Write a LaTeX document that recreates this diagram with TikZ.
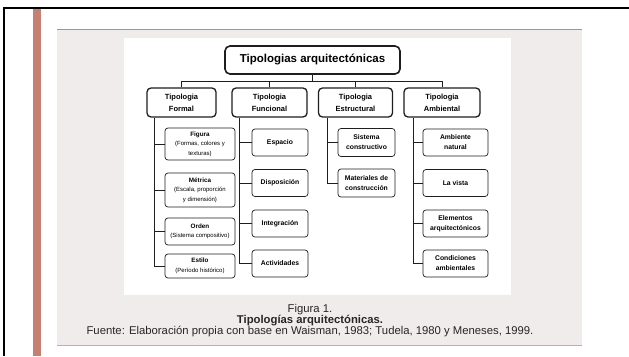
\documentclass[tikz,border=0pt]{standalone}
\usepackage{fontspec}
\setmainfont{Liberation Sans}
\usetikzlibrary{calc}
\definecolor{salmonbar}{RGB}{196,128,112}
\definecolor{panelgrey}{RGB}{240,236,236}
\definecolor{panelline}{RGB}{160,150,150}
\definecolor{pinkline}{RGB}{222,160,168}
\definecolor{inkgrey}{RGB}{30,30,30}
\tikzset{
  titlebox/.style={draw=inkgrey, line width=1.6pt, rounded corners=5pt, fill=white,
    font=\bfseries\fontsize{11.5}{13}\selectfont, inner sep=0pt,
    minimum width=175pt, minimum height=28pt},
  catbox/.style={draw=inkgrey, line width=1.3pt, rounded corners=4pt, fill=white,
    font=\bfseries\fontsize{7.5}{12}\selectfont, align=center, inner sep=0pt,
    minimum height=29pt},
  subbox/.style={draw=inkgrey, line width=0.7pt, rounded corners=3pt, fill=white,
    font=\bfseries\fontsize{6.8}{10}\selectfont, align=center, inner sep=0pt},
  formbox/.style={subbox, minimum width=70pt, font=\bfseries\fontsize{6.3}{9.5}\selectfont},
  funcbox/.style={subbox, minimum width=56pt, minimum height=27pt},
  estrbox/.style={subbox, minimum width=57pt, minimum height=28pt},
  ambbox/.style={subbox, minimum width=65pt, minimum height=27pt},
  conn/.style={draw=inkgrey, line width=0.9pt},
  captext/.style={font=\fontsize{11.3}{13}\selectfont, inner sep=0pt, text=black!85}
}
\newcommand{\subtxt}[1]{{\mdseries\fontsize{6}{9.5}\selectfont #1}}
\begin{document}
\begin{tikzpicture}[x=1pt,y=-1pt]
\useasboundingbox (0,0) rectangle (629,356);
\fill[white] (0,0) rectangle (629,356);
% page frame and side bar
\draw[line width=2pt, black] (4,356) -- (4,8) -- (629,8);
\fill[salmonbar] (33,9) rectangle (41,356);
% panel
\fill[panelgrey] (57,29) rectangle (582,346);
\draw[panelline, line width=1pt] (57,29.5) -- (582,29.5);
\draw[pinkline, line width=1.2pt] (57,345.5) -- (582,345.5);
\fill[white] (124,38) rectangle (511,295);

% title
\node[titlebox] (title) at (312.5,60) {Tipologias arquitectónicas};

% categories
\node[catbox, minimum width=69pt] (formal) at (181.5,102.5) {Tipologia\\Formal};
\node[catbox, minimum width=75pt] (funcional) at (269.5,102.5) {Tipologia\\Funcional};
\node[catbox, minimum width=74pt] (estructural) at (355.5,102.5) {Tipologia\\Estructural};
\node[catbox, minimum width=76pt] (ambiental) at (442,102.5) {Tipologia\\Ambiental};

% bus
\coordinate (bus) at (0,81);
\draw[conn] (title.south) -- (title.south |- bus);
\draw[conn] (formal.north |- bus) -- (ambiental.north |- bus);
\foreach \n in {formal,funcional,estructural,ambiental}
  \draw[conn] (\n.north |- bus) -- (\n.north);

% formal children
\node[formbox, minimum height=32pt] (figura) at (200,144) {Figura\\\subtxt{(Formas, colores y}\\\subtxt{texturas)}};
\node[formbox, minimum height=34pt] (metrica) at (200,190) {Métrica\\\subtxt{(Escala, proporción}\\\subtxt{y dimensión)}};
\node[formbox, minimum height=27pt] (orden) at (200,231.5) {Orden\\\subtxt{(Sistema compositivo)}};
\node[formbox, minimum height=24pt] (estilo) at (200,266) {Estilo\\\subtxt{(Período histórico)}};

% funcional children
\node[funcbox] (espacio) at (280,142.5) {Espacio};
\node[funcbox] (disposicion) at (280,183) {Disposición};
\node[funcbox] (integracion) at (280,223.5) {Integración};
\node[funcbox] (actividades) at (280,263.5) {Actividades};

% estructural children
\node[estrbox] (sistema) at (366.5,142.5) {Sistema\\constructivo};
\node[estrbox] (materiales) at (366.5,183) {Materiales de\\construcción};

% ambiental children
\node[ambbox] (ambiente) at (455.5,142.5) {Ambiente\\natural};
\node[ambbox] (vista) at (455.5,183) {La vista};
\node[ambbox] (elementos) at (455.5,223.5) {Elementos\\arquitectónicos};
\node[ambbox] (condiciones) at (455.5,263.5) {Condiciones\\ambientales};

% spines
\coordinate (fx) at (154,0);
\coordinate (ux) at (239,0);
\coordinate (sx) at (327,0);
\coordinate (ax) at (413,0);
\draw[conn] (fx |- formal.south) |- (estilo.west);
\foreach \c in {figura,metrica,orden} \draw[conn] (fx |- \c.west) -- (\c.west);
\draw[conn] (ux |- funcional.south) |- (actividades.west);
\foreach \c in {espacio,disposicion,integracion} \draw[conn] (ux |- \c.west) -- (\c.west);
\draw[conn] (sx |- estructural.south) |- (materiales.west);
\draw[conn] (sx |- sistema.west) -- (sistema.west);
\draw[conn] (ax |- ambiental.south) |- (condiciones.west);
\foreach \c in {ambiente,vista,elementos} \draw[conn] (ax |- \c.west) -- (\c.west);

% caption
\node[captext] (fig) at (310,309.5) {Figura 1.};
\node[captext, font=\bfseries\fontsize{11.3}{13}\selectfont] (captitle) at (310,320.5) {Tipologías arquitectónicas.};
\node[captext] (source) at (310,332) {Fuente: Elaboración propia con base en Waisman, 1983; Tudela, 1980 y Meneses, 1999.};
\end{tikzpicture}
\end{document}
